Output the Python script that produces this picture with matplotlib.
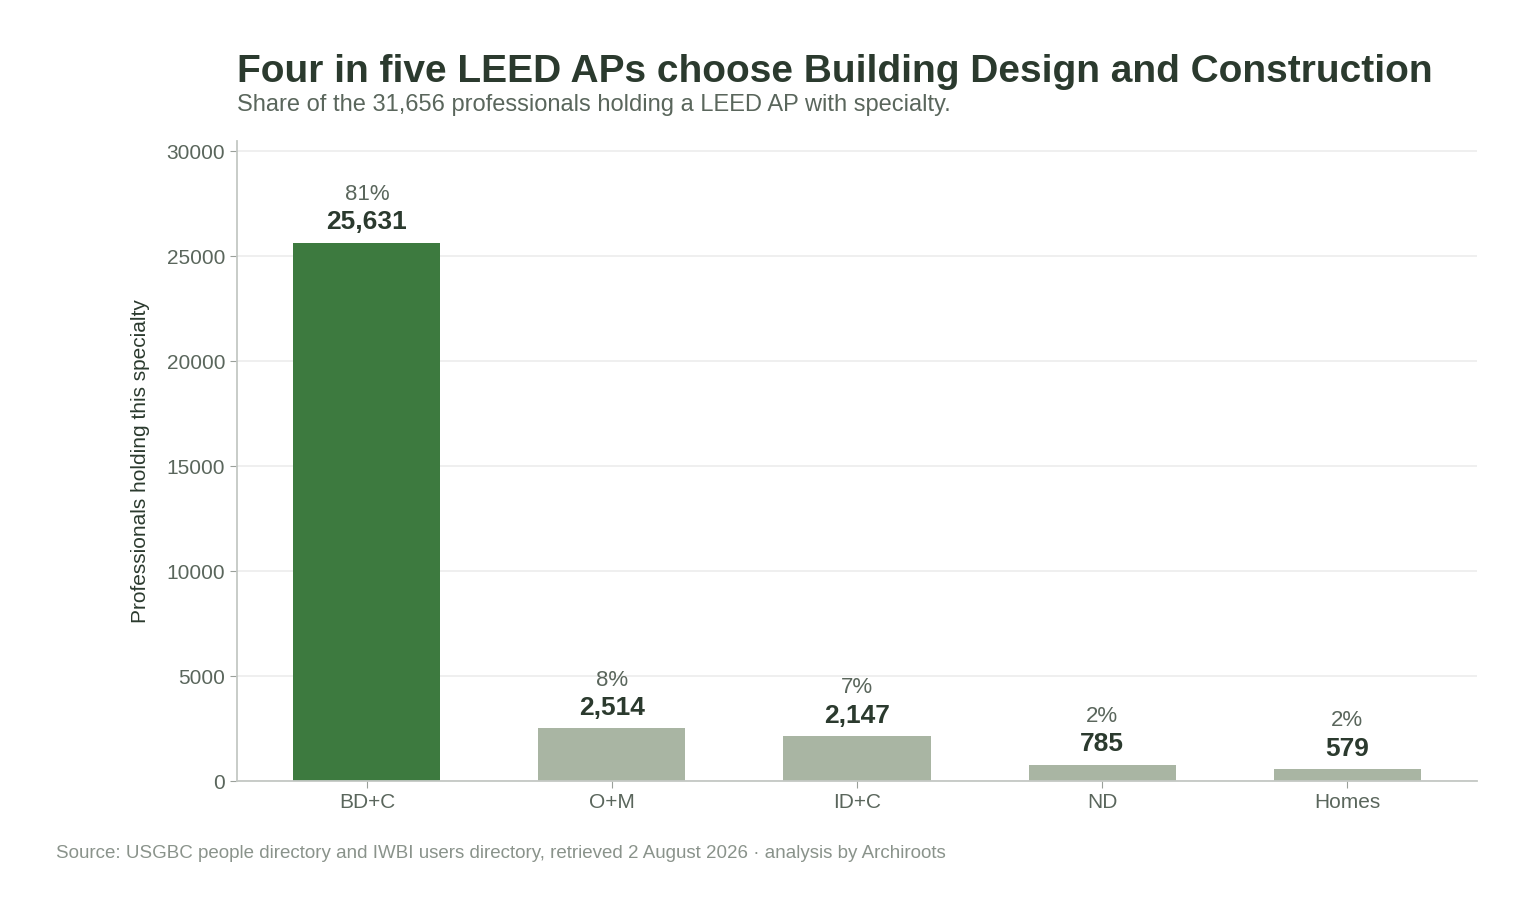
import matplotlib
matplotlib.use("Agg")
import matplotlib.pyplot as plt

plt.rcParams['font.family'] = ['Liberation Sans', 'DejaVu Sans']

categories = ["BD+C", "O+M", "ID+C", "ND", "Homes"]
counts = [25631, 2514, 2147, 785, 579]
shares = ["81%", "8%", "7%", "2%", "2%"]
colors = ["#3d7a3f", "#a9b5a3", "#a9b5a3", "#a9b5a3", "#a9b5a3"]

fig = plt.figure(figsize=(15.32, 9.18), dpi=100)
ax = fig.add_axes([0.1547, 0.1492, 0.8094, 0.6972])

x = range(len(categories))
ax.bar(x, counts, width=0.6, color=colors, zorder=2)
ax.set_xlim(-0.53, 4.53)
ax.set_ylim(0, 30476)
ax.set_yticks(range(0, 30001, 5000))
ax.set_xticks(list(x))
ax.set_xticklabels(categories)
ax.tick_params(axis='both', colors='#9aa09a', labelcolor='#5a665c', labelsize=15, length=5)
ax.grid(axis='y', color='#ececec', linewidth=1.2, zorder=0)
for s in ['top', 'right']:
    ax.spines[s].set_visible(False)
for s in ['left', 'bottom']:
    ax.spines[s].set_color('#c4c8c4')
    ax.spines[s].set_linewidth(1.3)
ax.set_ylabel("Professionals holding this specialty", fontsize=15, color='#2b3a2e', labelpad=12)

for i, (c, p) in enumerate(zip(counts, shares)):
    ax.annotate(f"{c:,}", (i, c), xytext=(0, 6), textcoords='offset points',
                ha='center', va='bottom', fontsize=19, fontweight='bold', color='#2b3a2e')
    ax.annotate(p, (i, c), xytext=(0, 27), textcoords='offset points',
                ha='center', va='bottom', fontsize=16, color='#5a665c')

fig.text(237/1532, 1 - 72/918, "Four in five LEED APs choose Building Design and Construction",
         fontsize=28, fontweight='bold', color='#2b3a2e', va='center')
fig.text(237/1532, 1 - 105/918, "Share of the 31,656 professionals holding a LEED AP with specialty.",
         fontsize=17, color='#5a665c', va='center')
fig.text(56/1532, 1 - 853/918,
         "Source: USGBC people directory and IWBI users directory, retrieved 2 August 2026 \u00b7 analysis by Archiroots",
         fontsize=13.5, color='#8a938b', va='center')

fig.savefig("out.png", dpi=100)
